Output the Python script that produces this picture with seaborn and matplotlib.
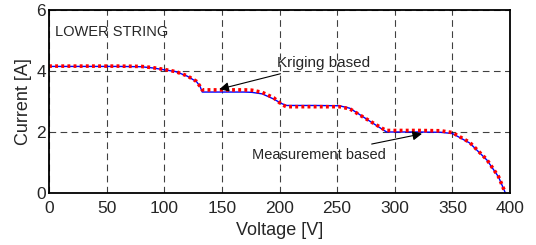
import numpy as np
import pandas as pd
import seaborn as sns
import matplotlib.pyplot as plt

# I-V curve of the lower string
voltage = [0, 20, 40, 60, 80, 90, 100, 110, 120, 128, 131, 133, 150, 170, 176, 185, 195,
           202, 206, 230, 252, 261, 270, 281, 290, 293, 320, 340, 350, 365, 380, 390, 396]
measured = [4.15, 4.15, 4.15, 4.15, 4.14, 4.10, 4.04, 3.98, 3.83, 3.65, 3.50, 3.31, 3.31, 3.31,
            3.30, 3.25, 3.08, 2.93, 2.87, 2.87, 2.86, 2.78, 2.56, 2.29, 2.07, 2.00, 2.00, 1.99,
            1.95, 1.64, 1.08, 0.53, 0.00]
kriging = [4.16, 4.16, 4.16, 4.16, 4.15, 4.11, 4.05, 3.98, 3.84, 3.66, 3.50, 3.38, 3.38, 3.38,
           3.37, 3.30, 3.12, 2.90, 2.83, 2.83, 2.83, 2.76, 2.55, 2.30, 2.10, 2.05, 2.05, 2.04,
           1.98, 1.66, 1.09, 0.54, 0.00]

df = pd.DataFrame({"V": voltage, "meas": measured, "krig": kriging})

sns.set_style("white")
plt.rcParams['font.family'] = ['Liberation Sans', 'DejaVu Sans']

fig = plt.figure(figsize=(5.36, 2.45), dpi=100)
ax = fig.add_axes([49 / 536, 52 / 245, 461 / 536, 183 / 245])

sns.lineplot(data=df, x="V", y="meas", ax=ax, color="blue", lw=1.0, sort=False)
sns.lineplot(data=df, x="V", y="krig", ax=ax, color="red", lw=2.6, ls=(0, (0.8, 0.9)), sort=False)

ax.set_xlim(0, 400)
ax.set_ylim(0, 6)
ax.set_xticks(range(0, 401, 50))
ax.set_yticks([0, 2, 4, 6])
ax.grid(True, color="black", ls=(0, (6, 4)), lw=0.8, alpha=0.75)
ax.tick_params(direction="in", length=3, labelsize=12.5)
ax.tick_params(axis="x", pad=6)
ax.tick_params(axis="y", pad=2)
for s in ax.spines.values():
    s.set_linewidth(1.3)
    s.set_color("black")

ax.set_xlabel("Voltage [V]", fontsize=13, labelpad=4)
ax.set_ylabel("Current [A]", fontsize=13, labelpad=3)

ax.text(5, 5.28, "LOWER STRING", fontsize=10.5, va="center")
ax.annotate("Kriging based", xy=(145.5, 3.38), xytext=(198, 4.27), fontsize=11, va="center",
            arrowprops=dict(arrowstyle="-|>", color="black", lw=0.8, mutation_scale=14))
ax.annotate("Measurement based", xy=(326, 1.96), xytext=(292, 1.25), fontsize=10.5,
            va="center", ha="right",
            arrowprops=dict(arrowstyle="-|>", color="black", lw=0.8, mutation_scale=14))

fig.savefig("out.png", dpi=100)
